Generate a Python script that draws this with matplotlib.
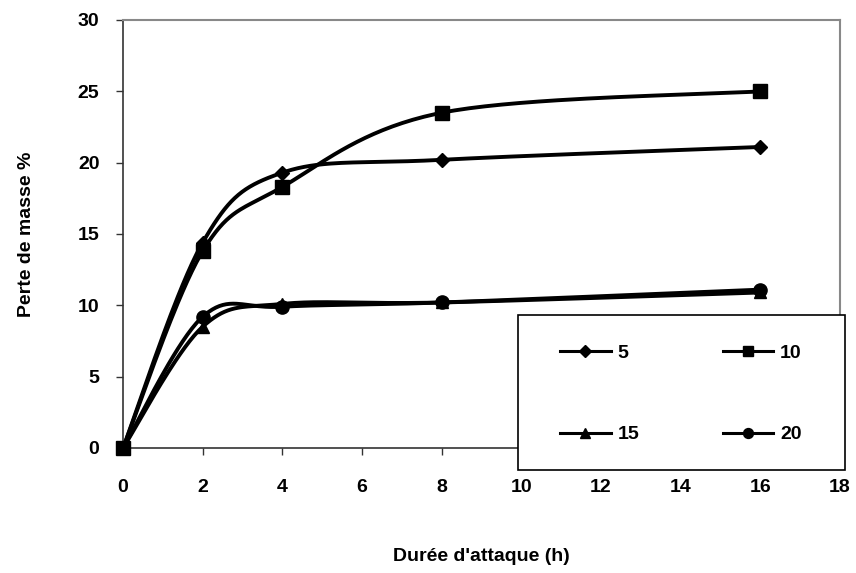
import numpy as np
import matplotlib
matplotlib.use('Agg')
import matplotlib.pyplot as plt
from matplotlib.lines import Line2D
from matplotlib.patches import Rectangle

plt.rcParams['font.family'] = ['Liberation Sans', 'DejaVu Sans']
plt.rcParams['font.weight'] = 'bold'
plt.rcParams['font.size'] = 14

## data
hours = [0, 2, 4, 8, 16]
serie_5 = [0, 14.4, 19.3, 20.2, 21.1]
serie_10 = [0, 13.8, 18.3, 23.5, 25.0]
serie_15 = [0, 8.5, 10.1, 10.2, 10.9]
serie_20 = [0, 9.2, 9.9, 10.2, 11.1]
labels = ['5', '10', '15', '20']
markers = ['D', 's', '^', 'o']
msizes = [7.5, 10.5, 9, 9.5]


def smooth(x, y, n=40):
    # excel-like smoothed line (catmull-rom as bezier)
    pts = np.column_stack([x, y]).astype(float)
    ext = np.vstack([pts[0], pts, pts[-1]])
    t = np.linspace(0, 1, n)[:, None]
    out = []
    for i in range(len(pts) - 1):
        p0, p1, p2, p3 = ext[i], ext[i + 1], ext[i + 2], ext[i + 3]
        c1 = p1 + (p2 - p0) / 6.
        c2 = p2 - (p3 - p1) / 6.
        seg = (1 - t)**3 * p1 + 3 * (1 - t)**2 * t * c1 + 3 * (1 - t) * t**2 * c2 + t**3 * p2
        out.append(seg)
    out = np.vstack(out)
    return out[:, 0], out[:, 1]


W, H = 856, 573
fig = plt.figure(figsize=(W / 100, H / 100), dpi=100)
ax = fig.add_axes([123 / W, 1 - 448 / H, (840 - 123) / W, (448 - 20) / H])

handles = {}
for yv, lab, mk, ms in zip([serie_5, serie_10, serie_15, serie_20], labels, markers, msizes):
    sx, sy = smooth(hours, yv)
    ax.plot(sx, sy, color='black', lw=2.8, solid_capstyle='round', zorder=3)
    ax.plot(hours, yv, linestyle='none', marker=mk, ms=ms, color='black', zorder=4, clip_on=False)
    handles[lab] = Line2D([], [], color='black', lw=2.2, marker=mk, ms=ms * 0.75, label=lab)

ax.set_xlim(0, 18)
ax.set_ylim(0, 30)
ax.set_xticks(range(0, 19, 2))
ax.set_yticks(range(0, 31, 5))
ax.tick_params(direction='out', length=5, width=1, color='#333333')
ax.tick_params(axis='x', pad=17)
ax.tick_params(axis='y', pad=12)
for s in ['top', 'right']:
    ax.spines[s].set_color('#888888')
    ax.spines[s].set_linewidth(1.5)
for s in ['left', 'bottom']:
    ax.spines[s].set_color('#333333')
    ax.spines[s].set_linewidth(1.2)

ax.set_xlabel("Durée d'attaque (h)", fontweight='bold', labelpad=38)
ax.set_ylabel('Perte de masse %', fontweight='bold', labelpad=31)

# legend box (drawn separately so padding matches)
box = Rectangle((518 / W, 1 - 470 / H), (845 - 518) / W, (470 - 315) / H,
                transform=fig.transFigure, facecolor='white', edgecolor='black',
                lw=1.2, zorder=9)
fig.patches.append(box)

order = ['5', '15', '10', '20']  # columns filled first -> rows 5/10, 15/20
leg = fig.legend(handles=[handles[k] for k in order], ncol=2, loc='upper left',
                 bbox_to_anchor=(560 / W, 1 - 344 / H),
                 frameon=False, borderpad=0, labelspacing=3.3, handlelength=2.6,
                 handletextpad=0.35, columnspacing=4.3, borderaxespad=0)
leg.set_zorder(10)

fig.savefig('out.png', dpi=100)
